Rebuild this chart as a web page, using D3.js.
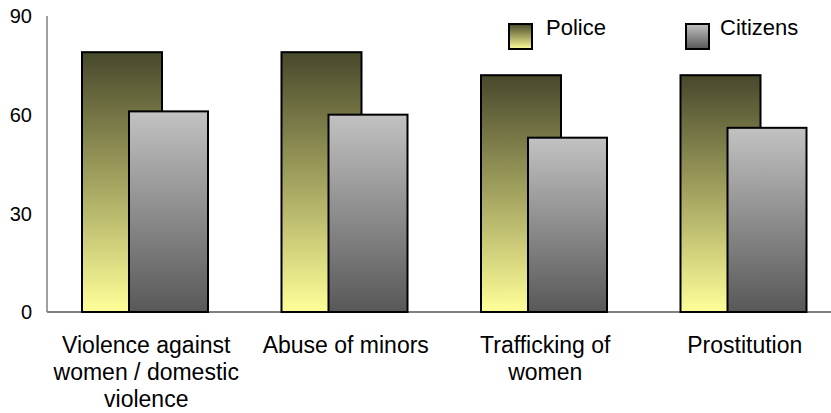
<!DOCTYPE html>
<html>
<head>
<meta charset="utf-8">
<script src="https://cdn.jsdelivr.net/npm/d3@7"></script>
<style>
  html, body { margin: 0; padding: 0; background: #fff; }
  svg { display: block; font-family: "Liberation Sans", Arial, sans-serif; }
</style>
</head>
<body>
<svg id="chart" width="831" height="413"></svg>
<script>
// Survey shares by offence category
const categories = [
  ["Violence against", "women / domestic", "violence"],
  ["Abuse of minors"],
  ["Trafficking of", "women"],
  ["Prostitution"]
];
const seriesNames = ["Police", "Citizens"];
const police   = [79, 79, 72, 72];
const citizens = [61, 60, 53, 56];
const yTicks   = [0, 30, 60, 90];

const svg = d3.select("#chart");
const plotLeft = 47, plotRight = 845, plotTop = 16, plotBottom = 312;

const x = d3.scaleBand().domain(d3.range(categories.length)).range([plotLeft, plotRight]).paddingInner(0).paddingOuter(0);
const y = d3.scaleLinear().domain([0, 90]).range([plotBottom, plotTop]);

const defs = svg.append("defs");
const gPolice = defs.append("linearGradient").attr("id", "gradPolice").attr("x1", 0).attr("y1", 0).attr("x2", 0).attr("y2", 1);
gPolice.append("stop").attr("offset", "0%").attr("stop-color", "#48482c");
gPolice.append("stop").attr("offset", "50%").attr("stop-color", "#a3a360");
gPolice.append("stop").attr("offset", "100%").attr("stop-color", "#ffff99");
const gCit = defs.append("linearGradient").attr("id", "gradCitizens").attr("x1", 0).attr("y1", 0).attr("x2", 0).attr("y2", 1);
gCit.append("stop").attr("offset", "0%").attr("stop-color", "#c2c2c2");
gCit.append("stop").attr("offset", "100%").attr("stop-color", "#585858");

// Axis lines
svg.append("line").attr("x1", plotLeft).attr("x2", 831).attr("y1", plotBottom).attr("y2", plotBottom)
  .attr("stroke", "#808080").attr("stroke-width", 2);
svg.append("line").attr("x1", plotLeft).attr("x2", plotLeft).attr("y1", plotTop).attr("y2", plotBottom)
  .attr("stroke", "#808080").attr("stroke-width", 1.5);

// Y tick labels
svg.append("g").selectAll("text").data(yTicks).join("text")
  .attr("x", 32).attr("y", d => y(d)).attr("dy", "0.36em")
  .attr("text-anchor", "end").attr("font-size", 20).attr("fill", "#000")
  .text(d => d);

const bw = 80;
const offP = 35, offC = 82;

svg.append("g").selectAll("rect").data(police).join("rect")
  .attr("x", (d, i) => x(i) + offP)
  .attr("y", d => y(d))
  .attr("width", bw)
  .attr("height", d => y(0) - y(d))
  .attr("fill", "url(#gradPolice)")
  .attr("stroke", "#000").attr("stroke-width", 2);

svg.append("g").selectAll("rect").data(citizens).join("rect")
  .attr("x", (d, i) => x(i) + offC)
  .attr("y", d => y(d))
  .attr("width", bw - 1)
  .attr("height", d => y(0) - y(d))
  .attr("fill", "url(#gradCitizens)")
  .attr("stroke", "#000").attr("stroke-width", 2);

// Category labels
const lab = svg.append("g").selectAll("text").data(categories).join("text")
  .attr("text-anchor", "middle").attr("font-size", 23).attr("fill", "#000")
  .attr("x", (d, i) => x(i) + x.bandwidth() / 2 - 0.5)
  .attr("y", 353);
lab.selectAll("tspan").data(d => d).join("tspan")
  .attr("x", function () { return this.parentNode.getAttribute("x"); })
  .attr("dy", (d, i) => i === 0 ? 0 : 27)
  .text(d => d);

// Legend
const legend = [
  { name: seriesNames[0], fill: "url(#gradPolice)", sx: 509, tx: 546 },
  { name: seriesNames[1], fill: "url(#gradCitizens)", sx: 686, tx: 720 }
];
const lg = svg.append("g");
lg.selectAll("rect").data(legend).join("rect")
  .attr("x", d => d.sx).attr("y", 24).attr("width", 23).attr("height", 25)
  .attr("fill", d => d.fill).attr("stroke", "#000").attr("stroke-width", 2);
lg.selectAll("text").data(legend).join("text")
  .attr("x", d => d.tx).attr("y", 35).attr("font-size", 22).attr("fill", "#000")
  .text(d => d.name);
</script>
</body>
</html>
